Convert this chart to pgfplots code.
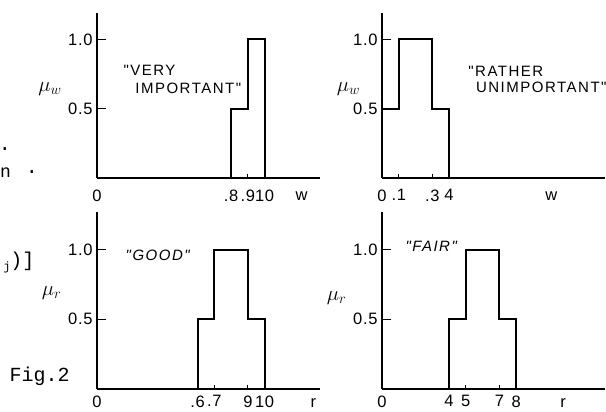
\documentclass[border=0pt]{standalone}
\usepackage{pgfplots}
\pgfplotsset{compat=1.18}
\usepackage{fontspec}
\setmainfont{Liberation Sans}
\newfontfamily\lettering[LetterSpace=10,Ligatures=TeXOff]{Liberation Sans}
\newfontfamily\tickfont[LetterSpace=4,Ligatures=TeXOff]{Liberation Sans}
\newfontfamily\typew[Ligatures=TeXOff]{Liberation Mono}
\newcommand\lf{\lettering\fontsize{15}{17}\selectfont}
\newcommand\tf{\tickfont\fontsize{16.5}{17}\selectfont}
\pgfplotsset{
  fz/.style={
    scale only axis, width=223pt, anchor=south west,
    xmin=0, xmax=1.33, ymin=0,
    axis lines=left, axis line style={-, line width=1.9pt},
    tick align=inside, major tick length=9pt,
    ytick={0.5,1}, yticklabels={0.5,1.0},
    tick style={line width=1.3pt, black},
    xtick style={/pgfplots/major tick length=4pt, line width=1pt},
    ticklabel style={font=\tf},
    yticklabel style={xshift=-1pt},
    clip=false,
  },
  fzline/.style={black, line width=1.9pt, sharp plot, no marks},
}
\begin{document}
\begin{tikzpicture}
\useasboundingbox (0pt,0pt) rectangle (606pt,412pt);
% top left
\begin{axis}[fz, at={(97pt,234pt)}, height=165pt, ymax=1.19,
  xtick={0,0.8,0.9,1}, xticklabels={0,.8,.9,10},
  xticklabel style={yshift=-8pt}]
\addplot[fzline] coordinates {(0.8,0)(0.8,0.5)(0.9,0.5)(0.9,1)(1,1)(1,0)};
\node[font=\fontsize{20}{20}\selectfont] at (axis cs:-0.28,0.64) {$\mu_{w}$};
\node[font=\lf, anchor=west] at (axis cs:0.137,0.777) {"VERY};
\node[font=\lf, anchor=west] at (axis cs:0.208,0.647) {IMPORTANT"};
\node[font=\tf] at (axis cs:1.22,-0.13) {w};
\end{axis}
% top right
\begin{axis}[fz, at={(382pt,234pt)}, height=165pt, ymax=1.19,
  xtick={0,0.1,0.3,0.4}, xticklabels={0,.1,.3,4},
  xticklabel style={yshift=-8pt}]
\addplot[fzline] coordinates {(0,0.5)(0.1,0.5)(0.1,1)(0.3,1)(0.3,0.5)(0.4,0.5)(0.4,0)};
\node[font=\fontsize{20}{20}\selectfont] at (axis cs:-0.2,0.64) {$\mu_{w}$};
\node[font=\lf, anchor=west] at (axis cs:0.494,0.77) {"RATHER};
\node[font=\lf, anchor=west] at (axis cs:0.54,0.655) {UNIMPORTANT"};
\node[font=\tf] at (axis cs:1.01,-0.13) {w};
\end{axis}
% bottom left
\begin{axis}[fz, at={(97pt,23pt)}, height=177pt, ymax=1.27,
  xtick={0,0.6,0.7,0.9,1}, xticklabels={0,.6,.7,9,10},
  xticklabel style={yshift=-3pt}]
\addplot[fzline] coordinates {(0.6,0)(0.6,0.5)(0.7,0.5)(0.7,1)(0.9,1)(0.9,0.5)(1,0.5)(1,0)};
\node[font=\fontsize{20}{20}\selectfont] at (axis cs:-0.27,0.69) {$\mu_{r}$};
\node[font=\lf\itshape, anchor=west] at (axis cs:0.15,0.96) {"GOOD"};
\node[font=\tf] at (axis cs:1.29,-0.10) {r};
\end{axis}
% bottom right
\begin{axis}[fz, at={(382pt,23pt)}, height=177pt, ymax=1.27,
  xtick={0,0.4,0.5,0.7,0.8}, xticklabels={0,4,5,7,8},
  xticklabel style={yshift=-3pt}]
\addplot[fzline] coordinates {(0.4,0)(0.4,0.5)(0.5,0.5)(0.5,1)(0.7,1)(0.7,0.5)(0.8,0.5)(0.8,0)};
\node[font=\fontsize{20}{20}\selectfont] at (axis cs:-0.27,0.65) {$\mu_{r}$};
\node[font=\lf\itshape, anchor=west] at (axis cs:0.12,1.02) {"FAIR"};
\node[font=\tf] at (axis cs:1.08,-0.10) {r};
\end{axis}
% scan fragments at the left edge
\node[font=\typew\fontsize{20}{20}\selectfont, anchor=west] at (6pt,36pt) {Fig.2};
\node[font=\typew\fontsize{20}{20}\selectfont, anchor=east] at (38pt,149pt) {\raisebox{-4pt}{\fontsize{12}{12}\selectfont j})]};
\node[font=\typew\fontsize{18}{18}\selectfont, anchor=west, inner sep=0pt] at (0pt,239pt) {n};
\node[font=\typew\fontsize{20}{20}\selectfont] at (32pt,240pt) {.};
\node[font=\typew\fontsize{20}{20}\selectfont, inner sep=0pt] at (5pt,263pt) {.};
\end{tikzpicture}
\end{document}
